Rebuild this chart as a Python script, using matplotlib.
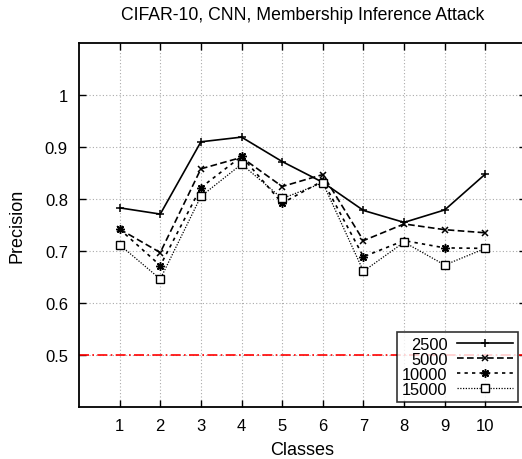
import numpy as np
import matplotlib.pyplot as plt

plt.rcParams['font.family'] = ['Liberation Sans', 'DejaVu Sans']

classes = [1, 2, 3, 4, 5, 6, 7, 8, 9, 10]
p2500 = [0.783, 0.771, 0.910, 0.919, 0.872, 0.832, 0.778, 0.755, 0.779, 0.848]
p5000 = [0.742, 0.697, 0.858, 0.880, 0.824, 0.847, 0.720, 0.752, 0.741, 0.735]
p10000 = [0.742, 0.672, 0.822, 0.882, 0.792, 0.835, 0.689, 0.720, 0.706, 0.705]
p15000 = [0.712, 0.646, 0.805, 0.867, 0.801, 0.831, 0.661, 0.717, 0.673, 0.705]
labels = ['2500', '5000', '10000', '15000']
baseline = 0.5

fig = plt.figure(figsize=(5.22, 4.6), dpi=100)
ax = fig.add_axes([79 / 522, 1 - 408 / 460, 447 / 522, 364 / 460])

ax.plot(classes, p2500, color='black', lw=1.2, ls='-', marker='+', ms=6, mew=1.1, label=labels[0])
ax.plot(classes, p5000, color='black', lw=1.2, ls=(0, (4, 2)), marker='x', ms=5, mew=1.1, label=labels[1])
ax.plot(classes, p10000, color='black', lw=1.2, ls=(0, (2, 2.5)), marker=(8, 2, 0), ms=6, mew=1.1, label=labels[2])
ax.plot(classes, p15000, color='black', lw=0.9, ls=(0, (1, 1.2)), marker='s', ms=5.5, mfc='white', mew=1.0, label=labels[3])
ax.axhline(baseline, color='red', lw=1.2, ls=(0, (6, 2, 1, 2)))

ax.set_xlim(0, 11)
ax.set_ylim(0.4, 1.1)
ax.set_xticks(classes)
ax.set_yticks([0.5, 0.6, 0.7, 0.8, 0.9, 1.0])
ax.set_yticklabels(['0.5', '0.6', '0.7', '0.8', '0.9', '1'])
ax.tick_params(direction='in', top=True, right=True, labelsize=12, length=5, width=1, pad=8)
ax.grid(True, color='#aaaaaa', ls=(0, (1, 2)), lw=0.8)
for s in ax.spines.values():
    s.set_linewidth(1.3)

ax.set_xlabel('Classes', fontsize=13, labelpad=6)
ax.set_ylabel('Precision', fontsize=13, labelpad=14)
ax.set_title('CIFAR-10, CNN, Membership Inference Attack', fontsize=12.7, pad=17)

leg = ax.legend(loc='lower right', bbox_to_anchor=(0.982, 0.015), fontsize=11.8, frameon=True,
                fancybox=False, edgecolor='black', borderpad=0.3, labelspacing=0.0,
                handlelength=3.4, handletextpad=0.6, markerfirst=False, borderaxespad=0)
leg.get_frame().set_linewidth(1.2)
for t in leg.get_texts():
    t.set_ha('right')
    t.set_position((0, 0))

fig.savefig('out.png', dpi=100)
